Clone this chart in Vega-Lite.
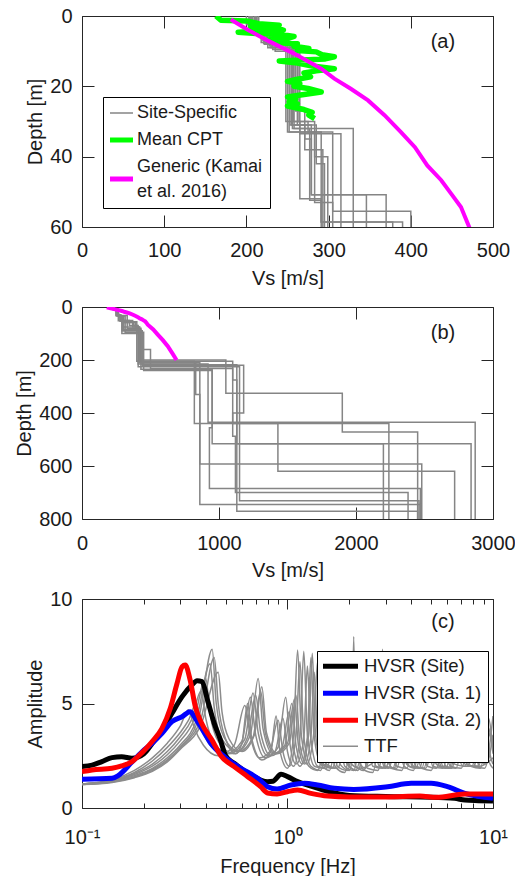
{
"$schema": "https://vega.github.io/schema/vega-lite/v6.json",
"padding": {"left": 14, "top": 6, "right": 0, "bottom": 0},
"bounds": "flush",
"spacing": 80,
"config": {
  "font": "Liberation Sans",
  "view": {"stroke": null},
  "axis": {"labelFont": "Liberation Sans", "titleFont": "Liberation Sans", "labelFontSize": 20, "titleFontSize": 20, "titleFontWeight": "normal", "labelColor": "#1a1a1a", "titleColor": "#1a1a1a", "domainColor": "#262626", "tickColor": "#262626", "domainWidth": 1, "tickWidth": 1, "grid": false, "labelFlush": false, "labelOverlap": false, "labelBound": false}
},
"resolve": {"scale": {"stroke": "independent"}, "legend": {"stroke": "independent"}},
"datasets": {
  "prof": [
    {"p":1,"d":0,"v":205},{"p":1,"d":3,"v":222},{"p":1,"d":8,"v":255},{"p":1,"d":31,"v":279},{"p":1,"d":50.8,"v":370},{"p":1,"d":75,"v":420},{"p":1,"d":205,"v":820},{"p":1,"d":440,"v":1430},{"p":1,"d":620,"v":2720},{"p":1,"d":800,"v":2720},
    {"p":2,"d":0,"v":210},{"p":2,"d":3,"v":228},{"p":2,"d":8.5,"v":258},{"p":2,"d":32,"v":277},{"p":2,"d":52.4,"v":291},{"p":2,"d":58.6,"v":378},{"p":2,"d":70,"v":410},{"p":2,"d":215,"v":920},{"p":2,"d":435,"v":2870},{"p":2,"d":800,"v":2870},
    {"p":3,"d":0,"v":200},{"p":3,"d":2.5,"v":218},{"p":3,"d":7.5,"v":250},{"p":3,"d":33,"v":291},{"p":3,"d":58.6,"v":390},{"p":3,"d":80,"v":430},{"p":3,"d":200,"v":1050},{"p":3,"d":325,"v":1900},{"p":3,"d":472,"v":2450},{"p":3,"d":800,"v":2450},
    {"p":4,"d":0,"v":207},{"p":4,"d":3,"v":225},{"p":4,"d":8,"v":262},{"p":4,"d":31,"v":271},{"p":4,"d":38,"v":293},{"p":4,"d":90,"v":440},{"p":4,"d":220,"v":1180},{"p":4,"d":400,"v":1100},{"p":4,"d":440,"v":2240},{"p":4,"d":800,"v":2240},
    {"p":5,"d":0,"v":212},{"p":5,"d":3.5,"v":230},{"p":5,"d":9,"v":252},{"p":5,"d":33,"v":305},{"p":5,"d":55.5,"v":400},{"p":5,"d":85,"v":430},{"p":5,"d":210,"v":860},{"p":5,"d":592,"v":2480},{"p":5,"d":800,"v":2480},
    {"p":6,"d":0,"v":203},{"p":6,"d":2,"v":220},{"p":6,"d":7,"v":248},{"p":6,"d":30,"v":283},{"p":6,"d":40,"v":299},{"p":6,"d":75,"v":420},{"p":6,"d":160,"v":500},{"p":6,"d":232,"v":1100},{"p":6,"d":275,"v":1130},{"p":6,"d":516,"v":2840},{"p":6,"d":800,"v":2840},
    {"p":7,"d":0,"v":215},{"p":7,"d":4,"v":235},{"p":7,"d":10,"v":265},{"p":7,"d":33.5,"v":315},{"p":7,"d":95,"v":450},{"p":7,"d":240,"v":950},{"p":7,"d":456,"v":930},{"p":7,"d":685,"v":2470},{"p":7,"d":800,"v":2470},
    {"p":8,"d":0,"v":208},{"p":8,"d":3,"v":224},{"p":8,"d":8,"v":256},{"p":8,"d":32,"v":330},{"p":8,"d":80,"v":410},{"p":8,"d":225,"v":1150},{"p":8,"d":731,"v":2460},{"p":8,"d":800,"v":2460},
    {"p":9,"d":0,"v":206},{"p":9,"d":3,"v":226},{"p":9,"d":9,"v":260},{"p":9,"d":27,"v":271},{"p":9,"d":35,"v":279},{"p":9,"d":50.8,"v":346},{"p":9,"d":70,"v":400},{"p":9,"d":205,"v":1100},{"p":9,"d":488,"v":1120},{"p":9,"d":700,"v":2380},{"p":9,"d":800,"v":2380},
    {"p":10,"d":0,"v":211},{"p":10,"d":3,"v":229},{"p":10,"d":8,"v":257},{"p":10,"d":30,"v":265},{"p":10,"d":52,"v":291},{"p":10,"d":100,"v":440},{"p":10,"d":218,"v":1130},{"p":10,"d":771,"v":2450},{"p":10,"d":800,"v":2450},
    {"p":11,"d":0,"v":204},{"p":11,"d":2.8,"v":221},{"p":11,"d":7.8,"v":253},{"p":11,"d":31,"v":285},{"p":11,"d":42,"v":295},{"p":11,"d":90,"v":430},{"p":11,"d":235,"v":950},{"p":11,"d":516,"v":2200},{"p":11,"d":800,"v":2200},
    {"p":12,"d":0,"v":213},{"p":12,"d":3.2,"v":232},{"p":12,"d":9.5,"v":264},{"p":12,"d":30,"v":275},{"p":12,"d":33,"v":283},{"p":12,"d":53,"v":305},{"p":12,"d":85,"v":420},{"p":12,"d":210,"v":830},{"p":12,"d":330,"v":860},{"p":12,"d":745,"v":2470},{"p":12,"d":800,"v":2470}
  ],
  "site": [{"s":"Site-Specific"}],
  "cpt": [
    {"s":"Mean CPT","d":0,"v":163},{"s":"Mean CPT","d":1.2,"v":169},{"s":"Mean CPT","d":1.4,"v":200},{"s":"Mean CPT","d":2.2,"v":215},{"s":"Mean CPT","d":2.6,"v":240},{"s":"Mean CPT","d":3.0,"v":205},{"s":"Mean CPT","d":3.5,"v":235},{"s":"Mean CPT","d":4.0,"v":245},{"s":"Mean CPT","d":4.6,"v":190},{"s":"Mean CPT","d":5.0,"v":215},{"s":"Mean CPT","d":5.3,"v":244},{"s":"Mean CPT","d":5.8,"v":258},{"s":"Mean CPT","d":6.4,"v":250},{"s":"Mean CPT","d":6.8,"v":226},{"s":"Mean CPT","d":7.6,"v":238},{"s":"Mean CPT","d":7.9,"v":262},{"s":"Mean CPT","d":8.6,"v":258},{"s":"Mean CPT","d":9.2,"v":276},{"s":"Mean CPT","d":9.8,"v":262},{"s":"Mean CPT","d":10.2,"v":285},{"s":"Mean CPT","d":11,"v":292},{"s":"Mean CPT","d":11.6,"v":307},{"s":"Mean CPT","d":12.2,"v":296},{"s":"Mean CPT","d":12.8,"v":240},{"s":"Mean CPT","d":13.4,"v":262},{"s":"Mean CPT","d":14.2,"v":280},{"s":"Mean CPT","d":15,"v":307},{"s":"Mean CPT","d":15.6,"v":285},{"s":"Mean CPT","d":16.2,"v":270},{"s":"Mean CPT","d":17.3,"v":278},{"s":"Mean CPT","d":18,"v":262},{"s":"Mean CPT","d":18.6,"v":250},{"s":"Mean CPT","d":19.2,"v":265},{"s":"Mean CPT","d":20,"v":258},{"s":"Mean CPT","d":20.6,"v":275},{"s":"Mean CPT","d":21.6,"v":291},{"s":"Mean CPT","d":22.4,"v":268},{"s":"Mean CPT","d":23,"v":250},{"s":"Mean CPT","d":23.6,"v":260},{"s":"Mean CPT","d":24.4,"v":252},{"s":"Mean CPT","d":25,"v":262},{"s":"Mean CPT","d":25.6,"v":250},{"s":"Mean CPT","d":26.6,"v":270},{"s":"Mean CPT","d":27.4,"v":280},{"s":"Mean CPT","d":28.2,"v":276},{"s":"Mean CPT","d":29.2,"v":283}
  ],
  "gen": [
    {"s":"Generic (Kamai et al. 2016)","d":1,"v":181},{"s":"Generic (Kamai et al. 2016)","d":4,"v":202},{"s":"Generic (Kamai et al. 2016)","d":7,"v":226},{"s":"Generic (Kamai et al. 2016)","d":10.7,"v":258},{"s":"Generic (Kamai et al. 2016)","d":15,"v":291},{"s":"Generic (Kamai et al. 2016)","d":17.8,"v":307},{"s":"Generic (Kamai et al. 2016)","d":20.7,"v":327},{"s":"Generic (Kamai et al. 2016)","d":24,"v":348},{"s":"Generic (Kamai et al. 2016)","d":28.2,"v":368},{"s":"Generic (Kamai et al. 2016)","d":33,"v":388},{"s":"Generic (Kamai et al. 2016)","d":37.3,"v":405},{"s":"Generic (Kamai et al. 2016)","d":42.5,"v":420},{"s":"Generic (Kamai et al. 2016)","d":46.7,"v":437},{"s":"Generic (Kamai et al. 2016)","d":50.5,"v":449},{"s":"Generic (Kamai et al. 2016)","d":54.3,"v":461},{"s":"Generic (Kamai et al. 2016)","d":60,"v":471},{"s":"Generic (Kamai et al. 2016)","d":67,"v":480},{"s":"Generic (Kamai et al. 2016)","d":85,"v":520},{"s":"Generic (Kamai et al. 2016)","d":104,"v":553},{"s":"Generic (Kamai et al. 2016)","d":125,"v":590},{"s":"Generic (Kamai et al. 2016)","d":148,"v":626},{"s":"Generic (Kamai et al. 2016)","d":175,"v":660},{"s":"Generic (Kamai et al. 2016)","d":200,"v":690}
  ],
  "hv": [
    {"s":"HVSR (Site)","f":0.1,"a":1.98},{"s":"HVSR (Site)","f":0.112,"a":2.05},{"s":"HVSR (Site)","f":0.125,"a":2.22},{"s":"HVSR (Site)","f":0.14,"a":2.41},{"s":"HVSR (Site)","f":0.156,"a":2.45},{"s":"HVSR (Site)","f":0.175,"a":2.38},{"s":"HVSR (Site)","f":0.2,"a":2.6},{"s":"HVSR (Site)","f":0.22,"a":3.1},{"s":"HVSR (Site)","f":0.245,"a":3.7},{"s":"HVSR (Site)","f":0.274,"a":4.53},{"s":"HVSR (Site)","f":0.307,"a":5.33},{"s":"HVSR (Site)","f":0.343,"a":5.89},{"s":"HVSR (Site)","f":0.363,"a":6.09},{"s":"HVSR (Site)","f":0.384,"a":6.05},{"s":"HVSR (Site)","f":0.408,"a":5.17},{"s":"HVSR (Site)","f":0.44,"a":4.05},{"s":"HVSR (Site)","f":0.47,"a":3.3},{"s":"HVSR (Site)","f":0.5,"a":2.5},{"s":"HVSR (Site)","f":0.55,"a":2.14},{"s":"HVSR (Site)","f":0.66,"a":1.6},{"s":"HVSR (Site)","f":0.8,"a":1.26},{"s":"HVSR (Site)","f":0.85,"a":1.28},{"s":"HVSR (Site)","f":0.93,"a":1.61},{"s":"HVSR (Site)","f":1.0,"a":1.5},{"s":"HVSR (Site)","f":1.12,"a":1.26},{"s":"HVSR (Site)","f":1.3,"a":1.05},{"s":"HVSR (Site)","f":1.57,"a":0.8},{"s":"HVSR (Site)","f":2.0,"a":0.6},{"s":"HVSR (Site)","f":3.0,"a":0.55},{"s":"HVSR (Site)","f":5.0,"a":0.52},{"s":"HVSR (Site)","f":6.5,"a":0.46},{"s":"HVSR (Site)","f":7.3,"a":0.38},{"s":"HVSR (Site)","f":8.5,"a":0.35},{"s":"HVSR (Site)","f":10,"a":0.33},
    {"s":"HVSR (Sta. 1)","f":0.1,"a":1.37},{"s":"HVSR (Sta. 1)","f":0.14,"a":1.42},{"s":"HVSR (Sta. 1)","f":0.15,"a":1.55},{"s":"HVSR (Sta. 1)","f":0.175,"a":2.2},{"s":"HVSR (Sta. 1)","f":0.196,"a":2.69},{"s":"HVSR (Sta. 1)","f":0.219,"a":3.09},{"s":"HVSR (Sta. 1)","f":0.245,"a":3.57},{"s":"HVSR (Sta. 1)","f":0.274,"a":4.13},{"s":"HVSR (Sta. 1)","f":0.307,"a":4.37},{"s":"HVSR (Sta. 1)","f":0.336,"a":4.61},{"s":"HVSR (Sta. 1)","f":0.356,"a":4.29},{"s":"HVSR (Sta. 1)","f":0.38,"a":3.85},{"s":"HVSR (Sta. 1)","f":0.424,"a":3.09},{"s":"HVSR (Sta. 1)","f":0.494,"a":2.45},{"s":"HVSR (Sta. 1)","f":0.594,"a":1.9},{"s":"HVSR (Sta. 1)","f":0.716,"a":1.42},{"s":"HVSR (Sta. 1)","f":0.8,"a":1.02},{"s":"HVSR (Sta. 1)","f":0.89,"a":0.91},{"s":"HVSR (Sta. 1)","f":1.04,"a":1.1},{"s":"HVSR (Sta. 1)","f":1.21,"a":1.18},{"s":"HVSR (Sta. 1)","f":1.4,"a":1.1},{"s":"HVSR (Sta. 1)","f":1.69,"a":0.94},{"s":"HVSR (Sta. 1)","f":2.1,"a":0.89},{"s":"HVSR (Sta. 1)","f":3.07,"a":1.02},{"s":"HVSR (Sta. 1)","f":4.0,"a":1.18},{"s":"HVSR (Sta. 1)","f":5.0,"a":1.18},{"s":"HVSR (Sta. 1)","f":6.0,"a":1.02},{"s":"HVSR (Sta. 1)","f":7.3,"a":0.7},{"s":"HVSR (Sta. 1)","f":10,"a":0.46},
    {"s":"HVSR (Sta. 2)","f":0.1,"a":1.74},{"s":"HVSR (Sta. 2)","f":0.112,"a":1.82},{"s":"HVSR (Sta. 2)","f":0.14,"a":1.9},{"s":"HVSR (Sta. 2)","f":0.156,"a":2.01},{"s":"HVSR (Sta. 2)","f":0.175,"a":2.22},{"s":"HVSR (Sta. 2)","f":0.196,"a":2.65},{"s":"HVSR (Sta. 2)","f":0.219,"a":3.17},{"s":"HVSR (Sta. 2)","f":0.245,"a":3.81},{"s":"HVSR (Sta. 2)","f":0.269,"a":4.77},{"s":"HVSR (Sta. 2)","f":0.29,"a":5.96},{"s":"HVSR (Sta. 2)","f":0.307,"a":6.76},{"s":"HVSR (Sta. 2)","f":0.318,"a":6.84},{"s":"HVSR (Sta. 2)","f":0.336,"a":6.12},{"s":"HVSR (Sta. 2)","f":0.356,"a":4.85},{"s":"HVSR (Sta. 2)","f":0.38,"a":4.1},{"s":"HVSR (Sta. 2)","f":0.429,"a":3.25},{"s":"HVSR (Sta. 2)","f":0.474,"a":2.5},{"s":"HVSR (Sta. 2)","f":0.55,"a":1.98},{"s":"HVSR (Sta. 2)","f":0.64,"a":1.5},{"s":"HVSR (Sta. 2)","f":0.74,"a":1.02},{"s":"HVSR (Sta. 2)","f":0.8,"a":0.72},{"s":"HVSR (Sta. 2)","f":0.89,"a":0.67},{"s":"HVSR (Sta. 2)","f":1.0,"a":0.78},{"s":"HVSR (Sta. 2)","f":1.12,"a":0.86},{"s":"HVSR (Sta. 2)","f":1.3,"a":0.7},{"s":"HVSR (Sta. 2)","f":1.57,"a":0.57},{"s":"HVSR (Sta. 2)","f":2.0,"a":0.53},{"s":"HVSR (Sta. 2)","f":3.0,"a":0.53},{"s":"HVSR (Sta. 2)","f":4.4,"a":0.57},{"s":"HVSR (Sta. 2)","f":5.3,"a":0.51},{"s":"HVSR (Sta. 2)","f":7.3,"a":0.67},{"s":"HVSR (Sta. 2)","f":10,"a":0.67}
  ],
  "ttf": [
    {"c":1,"f":0.1,"a":1.15},{"c":1,"f":0.14,"a":1.35},{"c":1,"f":0.18,"a":1.8},{"c":1,"f":0.22,"a":2.4},{"c":1,"f":0.26,"a":3.1},{"c":1,"f":0.3,"a":3.9},{"c":1,"f":0.33,"a":4.7},{"c":1,"f":0.35,"a":3.9},{"c":1,"f":0.39,"a":3.0},{"c":1,"f":0.46,"a":2.5},{"c":1,"f":0.55,"a":3.0},{"c":1,"f":0.62,"a":4.9},{"c":1,"f":0.66,"a":3.4},{"c":1,"f":0.73,"a":2.4},{"c":1,"f":0.82,"a":2.7},{"c":1,"f":0.9,"a":4.2},{"c":1,"f":0.95,"a":2.7},{"c":1,"f":1.02,"a":2.0},{"c":1,"f":1.1,"a":3.5},{"c":1,"f":1.15,"a":7.0},{"c":1,"f":1.2,"a":3.4},{"c":1,"f":1.3,"a":2.0},{"c":1,"f":1.45,"a":1.8},{"c":1,"f":1.6,"a":3.5},{"c":1,"f":1.7,"a":2.0},{"c":1,"f":1.9,"a":1.7},{"c":1,"f":2.1,"a":3.8},{"c":1,"f":2.3,"a":1.9},{"c":1,"f":2.6,"a":1.7},{"c":1,"f":2.9,"a":4.0},{"c":1,"f":3.2,"a":1.9},{"c":1,"f":3.6,"a":1.8},{"c":1,"f":4.0,"a":3.6},{"c":1,"f":4.5,"a":1.9},{"c":1,"f":5.0,"a":1.8},{"c":1,"f":5.6,"a":3.4},{"c":1,"f":6.2,"a":2.0},{"c":1,"f":7.0,"a":1.9},{"c":1,"f":7.8,"a":3.3},{"c":1,"f":8.6,"a":2.0},{"c":1,"f":9.4,"a":2.2},{"c":1,"f":10,"a":3.5},
    {"c":2,"f":0.1,"a":1.15},{"c":2,"f":0.14,"a":1.33},{"c":2,"f":0.18,"a":1.7},{"c":2,"f":0.22,"a":2.25},{"c":2,"f":0.26,"a":2.9},{"c":2,"f":0.3,"a":3.6},{"c":2,"f":0.33,"a":4.2},{"c":2,"f":0.36,"a":5.0},{"c":2,"f":0.38,"a":4.0},{"c":2,"f":0.42,"a":3.0},{"c":2,"f":0.5,"a":2.6},{"c":2,"f":0.6,"a":3.2},{"c":2,"f":0.66,"a":5.3},{"c":2,"f":0.7,"a":3.5},{"c":2,"f":0.78,"a":2.4},{"c":2,"f":0.87,"a":2.7},{"c":2,"f":0.95,"a":4.3},{"c":2,"f":1.0,"a":2.7},{"c":2,"f":1.07,"a":2.0},{"c":2,"f":1.15,"a":3.4},{"c":2,"f":1.2,"a":7.5},{"c":2,"f":1.25,"a":3.5},{"c":2,"f":1.35,"a":2.0},{"c":2,"f":1.5,"a":1.9},{"c":2,"f":1.7,"a":4.0},{"c":2,"f":1.8,"a":2.1},{"c":2,"f":2.0,"a":1.8},{"c":2,"f":2.2,"a":3.6},{"c":2,"f":2.45,"a":1.9},{"c":2,"f":2.75,"a":1.8},{"c":2,"f":3.1,"a":4.2},{"c":2,"f":3.4,"a":2.0},{"c":2,"f":3.8,"a":1.9},{"c":2,"f":4.3,"a":3.8},{"c":2,"f":4.8,"a":2.0},{"c":2,"f":5.3,"a":1.9},{"c":2,"f":5.9,"a":3.5},{"c":2,"f":6.5,"a":2.1},{"c":2,"f":7.3,"a":2.0},{"c":2,"f":8.2,"a":3.6},{"c":2,"f":9.0,"a":2.1},{"c":2,"f":10,"a":2.4},
    {"c":3,"f":0.1,"a":1.15},{"c":3,"f":0.14,"a":1.3},{"c":3,"f":0.18,"a":1.65},{"c":3,"f":0.22,"a":2.1},{"c":3,"f":0.26,"a":2.7},{"c":3,"f":0.3,"a":3.4},{"c":3,"f":0.34,"a":4.2},{"c":3,"f":0.38,"a":5.6},{"c":3,"f":0.4,"a":4.3},{"c":3,"f":0.44,"a":3.1},{"c":3,"f":0.52,"a":2.6},{"c":3,"f":0.62,"a":3.3},{"c":3,"f":0.68,"a":5.5},{"c":3,"f":0.72,"a":3.6},{"c":3,"f":0.8,"a":2.5},{"c":3,"f":0.9,"a":2.9},{"c":3,"f":0.98,"a":5.3},{"c":3,"f":1.03,"a":3.0},{"c":3,"f":1.1,"a":2.1},{"c":3,"f":1.2,"a":3.3},{"c":3,"f":1.25,"a":6.8},{"c":3,"f":1.3,"a":3.3},{"c":3,"f":1.4,"a":2.0},{"c":3,"f":1.55,"a":1.9},{"c":3,"f":1.75,"a":3.9},{"c":3,"f":1.9,"a":2.0},{"c":3,"f":2.1,"a":1.8},{"c":3,"f":2.35,"a":4.4},{"c":3,"f":2.6,"a":2.0},{"c":3,"f":2.9,"a":1.9},{"c":3,"f":3.3,"a":3.9},{"c":3,"f":3.7,"a":2.0},{"c":3,"f":4.1,"a":1.8},{"c":3,"f":4.6,"a":4.0},{"c":3,"f":5.1,"a":2.0},{"c":3,"f":5.7,"a":1.9},{"c":3,"f":6.4,"a":3.8},{"c":3,"f":7.1,"a":2.0},{"c":3,"f":7.9,"a":2.0},{"c":3,"f":8.8,"a":4.2},{"c":3,"f":9.5,"a":2.3},{"c":3,"f":10,"a":1.9},
    {"c":4,"f":0.1,"a":1.15},{"c":4,"f":0.14,"a":1.28},{"c":4,"f":0.18,"a":1.6},{"c":4,"f":0.22,"a":2.0},{"c":4,"f":0.26,"a":2.55},{"c":4,"f":0.3,"a":3.2},{"c":4,"f":0.35,"a":4.2},{"c":4,"f":0.4,"a":6.2},{"c":4,"f":0.42,"a":4.5},{"c":4,"f":0.46,"a":3.2},{"c":4,"f":0.55,"a":2.6},{"c":4,"f":0.64,"a":3.4},{"c":4,"f":0.7,"a":5.4},{"c":4,"f":0.74,"a":3.6},{"c":4,"f":0.83,"a":2.5},{"c":4,"f":0.94,"a":2.9},{"c":4,"f":1.02,"a":4.6},{"c":4,"f":1.07,"a":2.9},{"c":4,"f":1.15,"a":2.0},{"c":4,"f":1.25,"a":3.4},{"c":4,"f":1.3,"a":7.2},{"c":4,"f":1.35,"a":3.4},{"c":4,"f":1.45,"a":2.1},{"c":4,"f":1.6,"a":1.8},{"c":4,"f":1.8,"a":4.1},{"c":4,"f":1.95,"a":2.1},{"c":4,"f":2.15,"a":1.8},{"c":4,"f":2.45,"a":3.7},{"c":4,"f":2.7,"a":2.0},{"c":4,"f":3.0,"a":1.9},{"c":4,"f":3.4,"a":4.3},{"c":4,"f":3.8,"a":2.1},{"c":4,"f":4.2,"a":1.9},{"c":4,"f":4.8,"a":3.7},{"c":4,"f":5.3,"a":2.1},{"c":4,"f":5.9,"a":1.9},{"c":4,"f":6.6,"a":3.9},{"c":4,"f":7.3,"a":2.1},{"c":4,"f":8.1,"a":2.0},{"c":4,"f":9.0,"a":4.5},{"c":4,"f":9.7,"a":2.5},{"c":4,"f":10,"a":2.1},
    {"c":5,"f":0.1,"a":1.15},{"c":5,"f":0.14,"a":1.27},{"c":5,"f":0.18,"a":1.55},{"c":5,"f":0.22,"a":1.9},{"c":5,"f":0.26,"a":2.4},{"c":5,"f":0.3,"a":3.0},{"c":5,"f":0.36,"a":4.2},{"c":5,"f":0.42,"a":6.9},{"c":5,"f":0.44,"a":4.8},{"c":5,"f":0.48,"a":3.3},{"c":5,"f":0.57,"a":2.7},{"c":5,"f":0.66,"a":3.5},{"c":5,"f":0.72,"a":6.2},{"c":5,"f":0.76,"a":3.8},{"c":5,"f":0.85,"a":2.6},{"c":5,"f":0.97,"a":3.0},{"c":5,"f":1.05,"a":5.0},{"c":5,"f":1.1,"a":3.0},{"c":5,"f":1.18,"a":2.1},{"c":5,"f":1.27,"a":3.6},{"c":5,"f":1.32,"a":7.4},{"c":5,"f":1.37,"a":3.5},{"c":5,"f":1.47,"a":2.1},{"c":5,"f":1.65,"a":1.9},{"c":5,"f":1.85,"a":3.8},{"c":5,"f":2.0,"a":2.0},{"c":5,"f":2.2,"a":1.8},{"c":5,"f":2.5,"a":4.0},{"c":5,"f":2.8,"a":2.0},{"c":5,"f":3.1,"a":1.9},{"c":5,"f":3.5,"a":3.6},{"c":5,"f":3.9,"a":2.0},{"c":5,"f":4.4,"a":1.9},{"c":5,"f":4.9,"a":4.1},{"c":5,"f":5.5,"a":2.0},{"c":5,"f":6.1,"a":1.9},{"c":5,"f":6.8,"a":3.6},{"c":5,"f":7.6,"a":2.0},{"c":5,"f":8.4,"a":2.0},{"c":5,"f":9.2,"a":3.8},{"c":5,"f":10,"a":3.0},
    {"c":6,"f":0.1,"a":1.12},{"c":6,"f":0.14,"a":1.25},{"c":6,"f":0.18,"a":1.5},{"c":6,"f":0.22,"a":1.85},{"c":6,"f":0.26,"a":2.3},{"c":6,"f":0.3,"a":2.9},{"c":6,"f":0.37,"a":4.3},{"c":6,"f":0.43,"a":7.6},{"c":6,"f":0.45,"a":5.0},{"c":6,"f":0.49,"a":3.4},{"c":6,"f":0.58,"a":2.7},{"c":6,"f":0.68,"a":3.4},{"c":6,"f":0.74,"a":5.6},{"c":6,"f":0.78,"a":3.6},{"c":6,"f":0.87,"a":2.6},{"c":6,"f":1.0,"a":3.1},{"c":6,"f":1.08,"a":5.2},{"c":6,"f":1.13,"a":3.0},{"c":6,"f":1.21,"a":2.1},{"c":6,"f":1.3,"a":3.4},{"c":6,"f":1.35,"a":6.5},{"c":6,"f":1.4,"a":3.3},{"c":6,"f":1.5,"a":2.1},{"c":6,"f":1.7,"a":1.9},{"c":6,"f":1.9,"a":4.0},{"c":6,"f":2.05,"a":2.1},{"c":6,"f":2.25,"a":1.9},{"c":6,"f":2.75,"a":2.4},{"c":6,"f":2.9,"a":7.6},{"c":6,"f":3.05,"a":2.3},{"c":6,"f":3.3,"a":1.9},{"c":6,"f":3.7,"a":3.7},{"c":6,"f":4.1,"a":2.0},{"c":6,"f":4.6,"a":1.9},{"c":6,"f":5.2,"a":3.9},{"c":6,"f":5.7,"a":2.0},{"c":6,"f":6.3,"a":1.9},{"c":6,"f":7.0,"a":3.7},{"c":6,"f":7.8,"a":2.0},{"c":6,"f":8.7,"a":1.9},{"c":6,"f":9.5,"a":4.3},{"c":6,"f":10,"a":2.6},
    {"c":7,"f":0.1,"a":1.12},{"c":7,"f":0.14,"a":1.24},{"c":7,"f":0.18,"a":1.48},{"c":7,"f":0.22,"a":1.8},{"c":7,"f":0.26,"a":2.25},{"c":7,"f":0.3,"a":2.85},{"c":7,"f":0.38,"a":4.3},{"c":7,"f":0.44,"a":7.2},{"c":7,"f":0.46,"a":5.0},{"c":7,"f":0.5,"a":3.3},{"c":7,"f":0.56,"a":2.6},{"c":7,"f":0.6,"a":3.1},{"c":7,"f":0.64,"a":5.0},{"c":7,"f":0.67,"a":3.3},{"c":7,"f":0.75,"a":2.3},{"c":7,"f":0.83,"a":2.7},{"c":7,"f":0.88,"a":4.4},{"c":7,"f":0.92,"a":2.7},{"c":7,"f":1.0,"a":1.9},{"c":7,"f":1.07,"a":3.5},{"c":7,"f":1.12,"a":7.56},{"c":7,"f":1.17,"a":3.4},{"c":7,"f":1.27,"a":2.0},{"c":7,"f":1.4,"a":1.8},{"c":7,"f":1.6,"a":3.9},{"c":7,"f":1.75,"a":2.0},{"c":7,"f":1.95,"a":1.8},{"c":7,"f":2.05,"a":2.6},{"c":7,"f":2.1,"a":8.2},{"c":7,"f":2.15,"a":2.6},{"c":7,"f":2.4,"a":1.9},{"c":7,"f":2.7,"a":3.8},{"c":7,"f":3.0,"a":2.0},{"c":7,"f":3.4,"a":1.9},{"c":7,"f":3.8,"a":4.0},{"c":7,"f":4.2,"a":2.0},{"c":7,"f":4.7,"a":1.9},{"c":7,"f":5.3,"a":3.6},{"c":7,"f":5.9,"a":2.0},{"c":7,"f":6.6,"a":1.9},{"c":7,"f":7.4,"a":3.9},{"c":7,"f":8.2,"a":2.0},{"c":7,"f":9.1,"a":1.9},{"c":7,"f":10,"a":4.4},
    {"c":8,"f":0.1,"a":1.12},{"c":8,"f":0.14,"a":1.22},{"c":8,"f":0.18,"a":1.45},{"c":8,"f":0.22,"a":1.75},{"c":8,"f":0.26,"a":2.2},{"c":8,"f":0.3,"a":2.8},{"c":8,"f":0.38,"a":4.0},{"c":8,"f":0.46,"a":6.5},{"c":8,"f":0.48,"a":4.6},{"c":8,"f":0.52,"a":3.3},{"c":8,"f":0.6,"a":2.7},{"c":8,"f":0.69,"a":3.5},{"c":8,"f":0.75,"a":5.8},{"c":8,"f":0.79,"a":3.6},{"c":8,"f":0.89,"a":2.6},{"c":8,"f":1.02,"a":3.1},{"c":8,"f":1.1,"a":5.4},{"c":8,"f":1.15,"a":3.0},{"c":8,"f":1.24,"a":2.1},{"c":8,"f":1.34,"a":3.5},{"c":8,"f":1.4,"a":7.0},{"c":8,"f":1.45,"a":3.3},{"c":8,"f":1.55,"a":2.1},{"c":8,"f":1.75,"a":1.9},{"c":8,"f":2.0,"a":3.9},{"c":8,"f":2.15,"a":2.0},{"c":8,"f":2.35,"a":1.8},{"c":8,"f":2.65,"a":4.1},{"c":8,"f":2.95,"a":2.0},{"c":8,"f":3.25,"a":1.9},{"c":8,"f":3.65,"a":3.7},{"c":8,"f":4.05,"a":2.0},{"c":8,"f":4.5,"a":1.9},{"c":8,"f":5.0,"a":3.9},{"c":8,"f":5.6,"a":2.0},{"c":8,"f":6.2,"a":1.9},{"c":8,"f":6.9,"a":3.6},{"c":8,"f":7.7,"a":2.0},{"c":8,"f":8.5,"a":2.0},{"c":8,"f":9.4,"a":3.9},{"c":8,"f":10,"a":2.8}
  ]
},
"vconcat": [
  {
    "width": 411, "height": 211,
    "resolve": {"axis": {"x": "independent", "y": "independent"}},
    "layer": [
      {
        "data": {"name": "prof"},
        "mark": {"type": "line", "interpolate": "step-before", "clip": true, "strokeWidth": 1.5, "stroke": "#858585"},
        "encoding": {
          "x": {"field": "v", "type": "quantitative", "scale": {"domain": [0, 500], "nice": false, "zero": false}, "axis": {"orient": "bottom", "values": [0, 100, 200, 300, 400, 500], "tickSize": -12, "labelPadding": 25, "title": "Vs [m/s]", "titlePadding": 8}},
          "y": {"field": "d", "type": "quantitative", "scale": {"domain": [0, 60], "reverse": true, "nice": false, "zero": false}, "axis": {"orient": "left", "values": [0, 20, 40, 60], "tickSize": -12, "labelPadding": 22, "title": "Depth [m]", "titlePadding": 4}},
          "order": {"field": "d", "type": "quantitative"},
          "detail": {"field": "p", "type": "nominal"}
        }
      },
      {
        "data": {"name": "cpt"},
        "mark": {"type": "line", "clip": true, "strokeWidth": 5.5, "strokeJoin": "round"},
        "encoding": {
          "x": {"field": "v", "type": "quantitative", "axis": {"orient": "top", "values": [0, 100, 200, 300, 400, 500], "tickSize": -12, "labels": false, "title": null}},
          "y": {"field": "d", "type": "quantitative", "axis": {"orient": "right", "values": [0, 20, 40, 60], "tickSize": -12, "labels": false, "title": null}},
          "order": {"field": "d", "type": "quantitative"},
          "stroke": {"field": "s", "type": "nominal",
            "scale": {"domain": ["Site-Specific", "Mean CPT", "Generic (Kamai et al. 2016)"], "range": ["#858585", "#00ff00", "#ff00ff"]},
            "legend": {"orient": "none", "legendX": 21, "legendY": 81, "title": null, "symbolType": "stroke", "symbolSize": 529, "labelFont": "Liberation Sans", "labelFontSize": 18, "labelColor": "#1a1a1a", "labelLimit": 400, "strokeColor": "#000000", "fillColor": "#ffffff", "padding": 7, "rowPadding": 8, "labelOffset": 4,
              "labelExpr": "datum.label == 'Generic (Kamai et al. 2016)' ? ['Generic (Kamai', 'et al. 2016)'] : datum.label",
              "encode": {
                "symbols": {"update": {"x": {"value": 11.5}, "strokeWidth": {"signal": "datum.value == 'Site-Specific' ? 1.5 : 5"}, "y": {"signal": "datum.size * 0.5 + (datum.value == 'Generic (Kamai et al. 2016)' ? 12 : 0)"}}},
                "labels": {"update": {"x": {"value": 27}, "lineHeight": {"value": 25}}}}}
          }
        }
      },
      {
        "data": {"name": "site"},
        "mark": {"type": "line"},
        "encoding": {
          "stroke": {"field": "s", "type": "nominal"}
        }
      },
      {
        "data": {"name": "gen"},
        "mark": {"type": "line", "clip": true, "strokeWidth": 4},
        "encoding": {
          "x": {"field": "v", "type": "quantitative", "axis": null},
          "y": {"field": "d", "type": "quantitative", "axis": null},
          "order": {"field": "d", "type": "quantitative"},
          "stroke": {"field": "s", "type": "nominal"}
        }
      },
      {
        "data": {"values": [{}]},
        "mark": {"type": "text", "fontSize": 20, "font": "Liberation Sans", "color": "#1a1a1a", "align": "center", "baseline": "middle"},
        "encoding": {
          "x": {"datum": 439, "type": "quantitative", "axis": null},
          "y": {"datum": 7.3, "type": "quantitative", "axis": null},
          "text": {"value": "(a)"}
        }
      }
    ]
  },
  {
    "width": 411, "height": 212,
    "resolve": {"axis": {"x": "independent", "y": "independent"}},
    "layer": [
      {
        "data": {"name": "prof"},
        "mark": {"type": "line", "interpolate": "step-before", "clip": true, "strokeWidth": 1.5, "stroke": "#858585"},
        "encoding": {
          "x": {"field": "v", "type": "quantitative", "scale": {"domain": [0, 3000], "nice": false, "zero": false}, "axis": {"orient": "bottom", "values": [0, 1000, 2000, 3000], "format": "d", "tickSize": -12, "labelPadding": 26, "title": "Vs [m/s]", "titlePadding": 7}},
          "y": {"field": "d", "type": "quantitative", "scale": {"domain": [0, 800], "reverse": true, "nice": false, "zero": false}, "axis": {"orient": "left", "values": [0, 200, 400, 600, 800], "tickSize": -12, "labelPadding": 22, "title": "Depth [m]", "titlePadding": 4}},
          "order": {"field": "d", "type": "quantitative"},
          "detail": {"field": "p", "type": "nominal"}
        }
      },
      {
        "data": {"name": "gen"},
        "mark": {"type": "line", "clip": true, "strokeWidth": 4, "stroke": "#ff00ff"},
        "encoding": {
          "x": {"field": "v", "type": "quantitative", "axis": {"orient": "top", "values": [0, 1000, 2000, 3000], "tickSize": -12, "labels": false, "title": null}},
          "y": {"field": "d", "type": "quantitative", "axis": {"orient": "right", "values": [0, 200, 400, 600, 800], "tickSize": -12, "labels": false, "title": null}},
          "order": {"field": "d", "type": "quantitative"}
        }
      },
      {
        "data": {"values": [{}]},
        "mark": {"type": "text", "fontSize": 20, "font": "Liberation Sans", "color": "#1a1a1a", "align": "center", "baseline": "middle"},
        "encoding": {
          "x": {"datum": 2635, "type": "quantitative", "axis": null},
          "y": {"datum": 97, "type": "quantitative", "axis": null},
          "text": {"value": "(b)"}
        }
      }
    ]
  },
  {
    "width": 411, "height": 209,
    "resolve": {"axis": {"x": "independent", "y": "independent"}},
    "layer": [
      {
        "data": {"name": "ttf"},
        "mark": {"type": "line", "interpolate": "monotone", "clip": true, "strokeWidth": 1.5, "stroke": "#8c8c8c"},
        "encoding": {
          "x": {"field": "f", "type": "quantitative", "scale": {"type": "log", "domain": [0.1, 10], "nice": false}, "axis": {"orient": "bottom", "values": [0.1, 1, 10], "tickSize": -10, "labelPadding": 29, "title": "Frequency [Hz]", "titlePadding": 9, "labelExpr": "datum.value < 0.5 ? '10⁻¹' : (datum.value < 5 ? '10⁰' : '10¹')"}},
          "y": {"field": "a", "type": "quantitative", "scale": {"domain": [0, 10], "nice": false, "zero": false}, "axis": {"orient": "left", "values": [0, 5, 10], "tickSize": -12, "labelPadding": 22, "title": "Amplitude", "titlePadding": 4}},
          "detail": {"field": "c", "type": "nominal"}
        }
      },
      {
        "data": {"name": "hv"},
        "transform": [{"filter": "datum.s == 'HVSR (Site)'"}],
        "mark": {"type": "line", "interpolate": "monotone", "clip": true, "strokeWidth": 5},
        "encoding": {
          "x": {"field": "f", "type": "quantitative", "axis": {"orient": "bottom", "values": [0.2, 0.3, 0.4, 0.5, 0.6, 0.7, 0.8, 0.9, 2, 3, 4, 5, 6, 7, 8, 9], "tickSize": -5, "labels": false, "domain": false, "title": null}},
          "y": {"field": "a", "type": "quantitative", "axis": {"orient": "right", "values": [0, 5, 10], "tickSize": -12, "labels": false, "title": null}},
          "stroke": {"field": "s", "type": "nominal",
            "scale": {"domain": ["HVSR (Site)", "HVSR (Sta. 1)", "HVSR (Sta. 2)", "TTF"], "range": ["#000000", "#0000ff", "#ff0000", "#8c8c8c"]},
            "legend": {"orient": "none", "legendX": 235, "legendY": 52, "title": null, "symbolType": "stroke", "symbolSize": 1225, "labelFont": "Liberation Sans", "labelFontSize": 18.5, "labelColor": "#1a1a1a", "labelLimit": 400, "strokeColor": "#000000", "fillColor": "#ffffff", "padding": 6, "rowPadding": 6, "labelOffset": 6,
              "encode": {
                "symbols": {"update": {"x": {"value": 17.5}, "strokeWidth": {"signal": "datum.value == 'TTF' ? 1.5 : 5"}}},
                "labels": {"update": {"x": {"value": 41}}}}}
          }
        }
      },
      {
        "data": {"name": "hv"},
        "transform": [{"filter": "datum.s != 'HVSR (Site)'"}],
        "mark": {"type": "line", "interpolate": "monotone", "clip": true, "strokeWidth": 5},
        "encoding": {
          "x": {"field": "f", "type": "quantitative", "axis": {"orient": "top", "values": [0.1, 1, 10], "tickSize": -10, "labels": false, "title": null}},
          "y": {"field": "a", "type": "quantitative", "axis": null},
          "stroke": {"field": "s", "type": "nominal"}
        }
      },
      {
        "data": {"values": [{"s": "TTF"}]},
        "mark": {"type": "line"},
        "encoding": {
          "stroke": {"field": "s", "type": "nominal"}
        }
      },
      {
        "data": {"values": [{}]},
        "mark": {"type": "text", "fontSize": 20, "font": "Liberation Sans", "color": "#1a1a1a", "align": "center", "baseline": "middle"},
        "encoding": {
          "x": {"datum": 5.71, "type": "quantitative", "axis": {"orient": "top", "values": [0.2, 0.3, 0.4, 0.5, 0.6, 0.7, 0.8, 0.9, 2, 3, 4, 5, 6, 7, 8, 9], "tickSize": -5, "labels": false, "domain": false, "title": null}},
          "y": {"datum": 8.9, "type": "quantitative", "axis": null},
          "text": {"value": "(c)"}
        }
      }
    ]
  }
]
}
